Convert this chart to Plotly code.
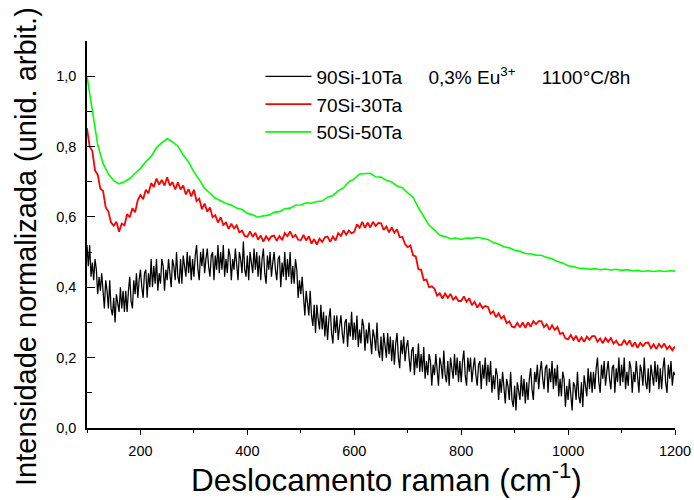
import plotly.graph_objects as go

# Raman shift grids (cm^-1)
shift_black = [100 + 2.5 * i for i in range(441)]
shift_5 = list(range(100, 1201, 5))
shift_10 = list(range(100, 1201, 10))

# 90Si-10Ta (black), sampled every 2.5 cm^-1
int_90si = [
    0.52, 0.46, 0.52, 0.43, 0.47, 0.42, 0.48, 0.45, 0.38, 0.43,
    0.39, 0.44, 0.39, 0.34, 0.42, 0.39, 0.34, 0.42, 0.34, 0.32,
    0.37, 0.30, 0.38, 0.35, 0.33, 0.40, 0.34, 0.39, 0.33, 0.39,
    0.33, 0.39, 0.43, 0.36, 0.34, 0.42, 0.38, 0.44, 0.37, 0.42,
    0.45, 0.40, 0.37, 0.44, 0.45, 0.37, 0.44, 0.40, 0.48, 0.40,
    0.46, 0.41, 0.48, 0.39, 0.44, 0.41, 0.48, 0.46, 0.39, 0.45,
    0.42, 0.48, 0.43, 0.40, 0.48, 0.46, 0.42, 0.50, 0.43, 0.41,
    0.48, 0.41, 0.49, 0.46, 0.43, 0.50, 0.44, 0.49, 0.42, 0.48,
    0.43, 0.49, 0.52, 0.45, 0.42, 0.50, 0.46, 0.51, 0.44, 0.48,
    0.51, 0.46, 0.43, 0.49, 0.50, 0.42, 0.49, 0.45, 0.52, 0.44,
    0.50, 0.45, 0.52, 0.43, 0.48, 0.44, 0.51, 0.49, 0.42, 0.48,
    0.45, 0.51, 0.46, 0.42, 0.50, 0.48, 0.44, 0.53, 0.45, 0.43,
    0.49, 0.42, 0.50, 0.47, 0.44, 0.51, 0.45, 0.50, 0.43, 0.49,
    0.42, 0.48, 0.51, 0.44, 0.41, 0.49, 0.45, 0.50, 0.43, 0.47,
    0.50, 0.45, 0.42, 0.48, 0.49, 0.40, 0.47, 0.43, 0.50, 0.42,
    0.48, 0.43, 0.50, 0.41, 0.46, 0.41, 0.48, 0.45, 0.37, 0.42,
    0.38, 0.43, 0.37, 0.32, 0.39, 0.36, 0.32, 0.39, 0.32, 0.29,
    0.35, 0.27, 0.35, 0.31, 0.28, 0.35, 0.28, 0.33, 0.26, 0.32,
    0.25, 0.31, 0.34, 0.27, 0.24, 0.32, 0.27, 0.32, 0.25, 0.29,
    0.32, 0.27, 0.24, 0.30, 0.31, 0.23, 0.30, 0.26, 0.33, 0.25,
    0.30, 0.25, 0.32, 0.23, 0.28, 0.24, 0.31, 0.29, 0.22, 0.28,
    0.24, 0.30, 0.25, 0.21, 0.28, 0.26, 0.22, 0.30, 0.22, 0.20,
    0.26, 0.19, 0.27, 0.23, 0.20, 0.27, 0.21, 0.26, 0.19, 0.25,
    0.18, 0.24, 0.27, 0.20, 0.17, 0.25, 0.21, 0.26, 0.19, 0.23,
    0.25, 0.20, 0.16, 0.22, 0.23, 0.15, 0.21, 0.17, 0.24, 0.16,
    0.21, 0.16, 0.23, 0.14, 0.19, 0.15, 0.21, 0.19, 0.12, 0.18,
    0.15, 0.21, 0.16, 0.12, 0.20, 0.18, 0.14, 0.22, 0.15, 0.13,
    0.19, 0.12, 0.20, 0.17, 0.14, 0.21, 0.15, 0.20, 0.13, 0.19,
    0.13, 0.19, 0.22, 0.15, 0.12, 0.20, 0.16, 0.20, 0.13, 0.17,
    0.20, 0.15, 0.12, 0.18, 0.19, 0.11, 0.18, 0.14, 0.20, 0.12,
    0.18, 0.13, 0.19, 0.10, 0.15, 0.11, 0.17, 0.15, 0.08, 0.14,
    0.10, 0.16, 0.11, 0.07, 0.14, 0.12, 0.08, 0.16, 0.08, 0.06,
    0.12, 0.05, 0.13, 0.10, 0.08, 0.15, 0.09, 0.14, 0.07, 0.13,
    0.08, 0.14, 0.17, 0.11, 0.08, 0.16, 0.13, 0.18, 0.11, 0.16,
    0.19, 0.14, 0.11, 0.17, 0.18, 0.10, 0.17, 0.13, 0.19, 0.11,
    0.17, 0.12, 0.18, 0.09, 0.14, 0.09, 0.16, 0.14, 0.06, 0.12,
    0.08, 0.14, 0.09, 0.05, 0.13, 0.12, 0.08, 0.16, 0.09, 0.07,
    0.13, 0.06, 0.15, 0.12, 0.09, 0.17, 0.11, 0.16, 0.10, 0.16,
    0.11, 0.17, 0.20, 0.13, 0.10, 0.18, 0.14, 0.19, 0.12, 0.16,
    0.19, 0.14, 0.11, 0.17, 0.18, 0.10, 0.17, 0.13, 0.20, 0.12,
    0.18, 0.13, 0.20, 0.11, 0.16, 0.12, 0.19, 0.17, 0.10, 0.16,
    0.13, 0.19, 0.14, 0.10, 0.18, 0.16, 0.12, 0.20, 0.13, 0.11,
    0.17, 0.10, 0.18, 0.15, 0.12, 0.19, 0.13, 0.18, 0.11, 0.17,
    0.11, 0.17, 0.20, 0.13, 0.10, 0.18, 0.14, 0.19, 0.12, 0.16,
    0.15,
]

# 70Si-30Ta (red), sampled every 5 cm^-1
int_70si = [
    0.852, 0.800, 0.787, 0.732, 0.720, 0.680, 0.674, 0.627, 0.615, 0.584,
    0.575, 0.586, 0.558, 0.581, 0.576, 0.608, 0.599, 0.625, 0.613, 0.648,
    0.662, 0.650, 0.677, 0.667, 0.696, 0.685, 0.709, 0.692, 0.705, 0.689,
    0.713, 0.689, 0.699, 0.678, 0.698, 0.678, 0.689, 0.664, 0.679, 0.658,
    0.677, 0.645, 0.652, 0.622, 0.638, 0.615, 0.627, 0.599, 0.605, 0.584,
    0.599, 0.577, 0.584, 0.566, 0.581, 0.567, 0.576, 0.556, 0.561, 0.546,
    0.544, 0.559, 0.543, 0.555, 0.535, 0.547, 0.530, 0.545, 0.534, 0.545,
    0.547, 0.532, 0.546, 0.534, 0.554, 0.545, 0.559, 0.542, 0.549, 0.535,
    0.534, 0.549, 0.533, 0.545, 0.524, 0.537, 0.521, 0.538, 0.529, 0.542,
    0.544, 0.529, 0.544, 0.533, 0.554, 0.546, 0.562, 0.549, 0.561, 0.553,
    0.558, 0.579, 0.569, 0.586, 0.569, 0.584, 0.570, 0.586, 0.574, 0.583,
    0.582, 0.563, 0.573, 0.556, 0.570, 0.555, 0.565, 0.542, 0.543, 0.523,
    0.514, 0.519, 0.491, 0.488, 0.451, 0.450, 0.420, 0.422, 0.400, 0.403,
    0.396, 0.376, 0.383, 0.368, 0.382, 0.370, 0.381, 0.365, 0.373, 0.361,
    0.361, 0.374, 0.359, 0.369, 0.349, 0.359, 0.342, 0.354, 0.341, 0.347,
    0.344, 0.325, 0.332, 0.315, 0.326, 0.311, 0.318, 0.298, 0.303, 0.288,
    0.286, 0.299, 0.286, 0.300, 0.285, 0.300, 0.288, 0.304, 0.295, 0.304,
    0.304, 0.287, 0.295, 0.279, 0.292, 0.279, 0.287, 0.267, 0.271, 0.255,
    0.252, 0.264, 0.250, 0.262, 0.245, 0.258, 0.245, 0.260, 0.251, 0.261,
    0.261, 0.245, 0.255, 0.241, 0.256, 0.245, 0.256, 0.240, 0.248, 0.236,
    0.236, 0.250, 0.237, 0.249, 0.231, 0.243, 0.228, 0.242, 0.233, 0.242,
    0.243, 0.227, 0.238, 0.224, 0.239, 0.229, 0.240, 0.224, 0.233, 0.221,
    0.232,
]

# 50Si-50Ta (green), sampled every 10 cm^-1
int_50si = [
    1.000, 0.895, 0.805, 0.752, 0.722, 0.703, 0.694, 0.700, 0.709, 0.724,
    0.738, 0.757, 0.772, 0.797, 0.811, 0.822, 0.813, 0.801, 0.776, 0.756,
    0.728, 0.706, 0.681, 0.668, 0.653, 0.646, 0.638, 0.634, 0.625, 0.621,
    0.610, 0.606, 0.599, 0.603, 0.605, 0.613, 0.615, 0.623, 0.625, 0.633,
    0.634, 0.640, 0.639, 0.644, 0.645, 0.656, 0.661, 0.674, 0.683, 0.700,
    0.708, 0.722, 0.723, 0.724, 0.714, 0.713, 0.704, 0.699, 0.688, 0.683,
    0.668, 0.656, 0.626, 0.601, 0.576, 0.563, 0.548, 0.544, 0.538, 0.540,
    0.536, 0.540, 0.539, 0.542, 0.539, 0.536, 0.527, 0.523, 0.515, 0.512,
    0.505, 0.502, 0.496, 0.495, 0.491, 0.491, 0.485, 0.481, 0.473, 0.469,
    0.461, 0.459, 0.454, 0.454, 0.451, 0.453, 0.450, 0.452, 0.449, 0.451,
    0.448, 0.450, 0.447, 0.448, 0.445, 0.447, 0.445, 0.447, 0.445, 0.447,
    0.446,
]

NB = "\u00a0"
legend_names = [
    f"90Si-10Ta{NB*4} 0,3% Eu<sup>3+</sup>{NB*4} 1100°C/8h",
    "70Si-30Ta",
    "50Si-50Ta",
]
x_title = "Deslocamento raman (cm<sup>-1</sup>)"
y_title = "Intensidade normalizada (unid. arbit.)"

FONT = "Liberation Sans, Arial, sans-serif"

fig = go.Figure()
fig.add_trace(go.Scatter(x=shift_black, y=int_90si, mode="lines", name=legend_names[0],
                         line=dict(color="#000000", width=1.25)))
fig.add_trace(go.Scatter(x=shift_5, y=int_70si, mode="lines", name=legend_names[1],
                         line=dict(color="#ff0000", width=1.8)))
fig.add_trace(go.Scatter(x=shift_10, y=int_50si, mode="lines", name=legend_names[2],
                         line=dict(color="#00ff00", width=1.6)))

fig.update_layout(
    width=694, height=500,
    margin=dict(l=87, r=19, t=41, b=72, autoexpand=False),
    paper_bgcolor="white", plot_bgcolor="white",
    separators=",.",
    font=dict(family=FONT, color="#000000"),
    showlegend=True,
    legend=dict(x=0.295, y=0.957, xanchor="left", yanchor="top",
                bgcolor="rgba(0,0,0,0)", font=dict(size=19, family=FONT),
                itemwidth=46, tracegroupgap=0),
    xaxis=dict(
        range=[100, 1200], dtick=200, tick0=0,
        showline=True, linecolor="#000000", linewidth=1.6, mirror=False,
        ticks="outside", ticklen=5, tickwidth=1.2, tickcolor="#000000",
        minor=dict(ticks="outside", ticklen=3, dtick=100, tickcolor="#000000", tickwidth=1),
        showgrid=False, zeroline=False,
        tickfont=dict(size=14.5, family=FONT),
        ticklabelstandoff=4,
    ),
    yaxis=dict(
        range=[0, 1.1], dtick=0.2, tick0=0, tickformat=".1f",
        showline=True, linecolor="#000000", linewidth=1.6, mirror=False,
        ticks="inside", ticklen=8, tickwidth=1.2, tickcolor="#000000",
        minor=dict(ticks="inside", ticklen=5, dtick=0.1, tickcolor="#000000", tickwidth=1),
        showgrid=False, zeroline=False,
        tickfont=dict(size=14.5, family=FONT),
        ticklabelstandoff=6,
    ),
    # top and right frame edges with short inward ticks
    xaxis2=dict(
        overlaying="x", side="top", matches="x", range=[100, 1200],
        showline=True, linecolor="#333333", linewidth=1.6,
        ticks="inside", ticklen=3, dtick=100, tick0=0, tickcolor="#555555",
        showticklabels=False, showgrid=False, zeroline=False,
    ),
    yaxis2=dict(
        overlaying="y", side="right", matches="y", range=[0, 1.1],
        showline=True, linecolor="#000000", linewidth=1.6,
        ticks="inside", ticklen=3, dtick=0.1, tick0=0, tickcolor="#000000",
        showticklabels=False, showgrid=False, zeroline=False,
    ),
    annotations=[
        dict(text=x_title, xref="paper", yref="paper", x=0.51, y=-0.13,
             xanchor="center", yanchor="middle", showarrow=False,
             font=dict(size=31.5, family=FONT, color="#000000")),
        dict(text=y_title, xref="paper", yref="paper", x=-0.104, y=0.47,
             xanchor="center", yanchor="middle", textangle=-90, showarrow=False,
             font=dict(size=29, family=FONT, color="#000000")),
    ],
)

fig.write_html("out.html")
